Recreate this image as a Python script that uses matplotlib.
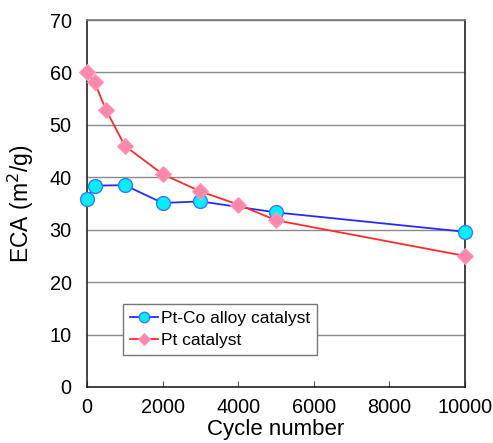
import matplotlib
matplotlib.use('Agg')
import matplotlib.pyplot as plt

cycles_ptco = [0, 200, 1000, 2000, 3000, 5000, 10000]
eca_ptco = [35.9, 38.4, 38.5, 35.1, 35.4, 33.3, 29.6]

cycles_pt = [0, 200, 500, 1000, 2000, 3000, 4000, 5000, 10000]
eca_pt = [60.0, 58.1, 52.9, 46.0, 40.6, 37.3, 34.8, 31.8, 25.0]

xticks = [0, 2000, 4000, 6000, 8000, 10000]
yticks = [0, 10, 20, 30, 40, 50, 60, 70]

plt.rcParams['font.family'] = ['Liberation Sans', 'DejaVu Sans']

fig = plt.figure(figsize=(4.93, 4.43), dpi=100)
ax = fig.add_axes([87 / 493, 1 - 387 / 443, 378 / 493, 367 / 443])

ax.plot(cycles_ptco, eca_ptco, color='#2a2aff', lw=1.3, marker='o', ms=10,
        mfc='#00f0ff', mec='#3a7aff', mew=1.0, label='Pt-Co alloy catalyst',
        zorder=3, clip_on=False)
ax.plot(cycles_pt, eca_pt, color='#ff2a2a', lw=1.3, marker='D', ms=8.5,
        mfc='#ff88aa', mec='#ff99bb', mew=0.8, label='Pt catalyst',
        zorder=3, clip_on=False)

ax.set_xlim(0, 10000)
ax.set_ylim(0, 70)
ax.set_xticks(xticks)
ax.set_yticks(yticks)
ax.yaxis.grid(True, color='#8a8a8a', lw=1.0)
ax.set_axisbelow(True)
ax.tick_params(axis='x', direction='in', length=4, width=0.8, color='#555555',
               labelsize=14.3, pad=8)
ax.tick_params(axis='y', length=0, labelsize=14.3, pad=11)
for side in ['left', 'bottom', 'right']:
    ax.spines[side].set_color('#222222')
    ax.spines[side].set_linewidth(1.2)
ax.spines['top'].set_color('#777777')
ax.spines['top'].set_linewidth(1.2)

ax.set_xlabel('Cycle number', fontsize=16, labelpad=1)
ax.set_ylabel('ECA (m$^2$/g)', fontsize=16.5, labelpad=10)

leg = ax.legend(loc='lower left', bbox_to_anchor=(0.095, 0.087), fontsize=12.5,
                fancybox=False, framealpha=1, edgecolor='#777777',
                handlelength=1.6, handletextpad=0.2, borderpad=0.4,
                labelspacing=0.4, markerscale=0.75, borderaxespad=0)
leg.get_frame().set_linewidth(1.0)

fig.savefig('out.png', dpi=100)
